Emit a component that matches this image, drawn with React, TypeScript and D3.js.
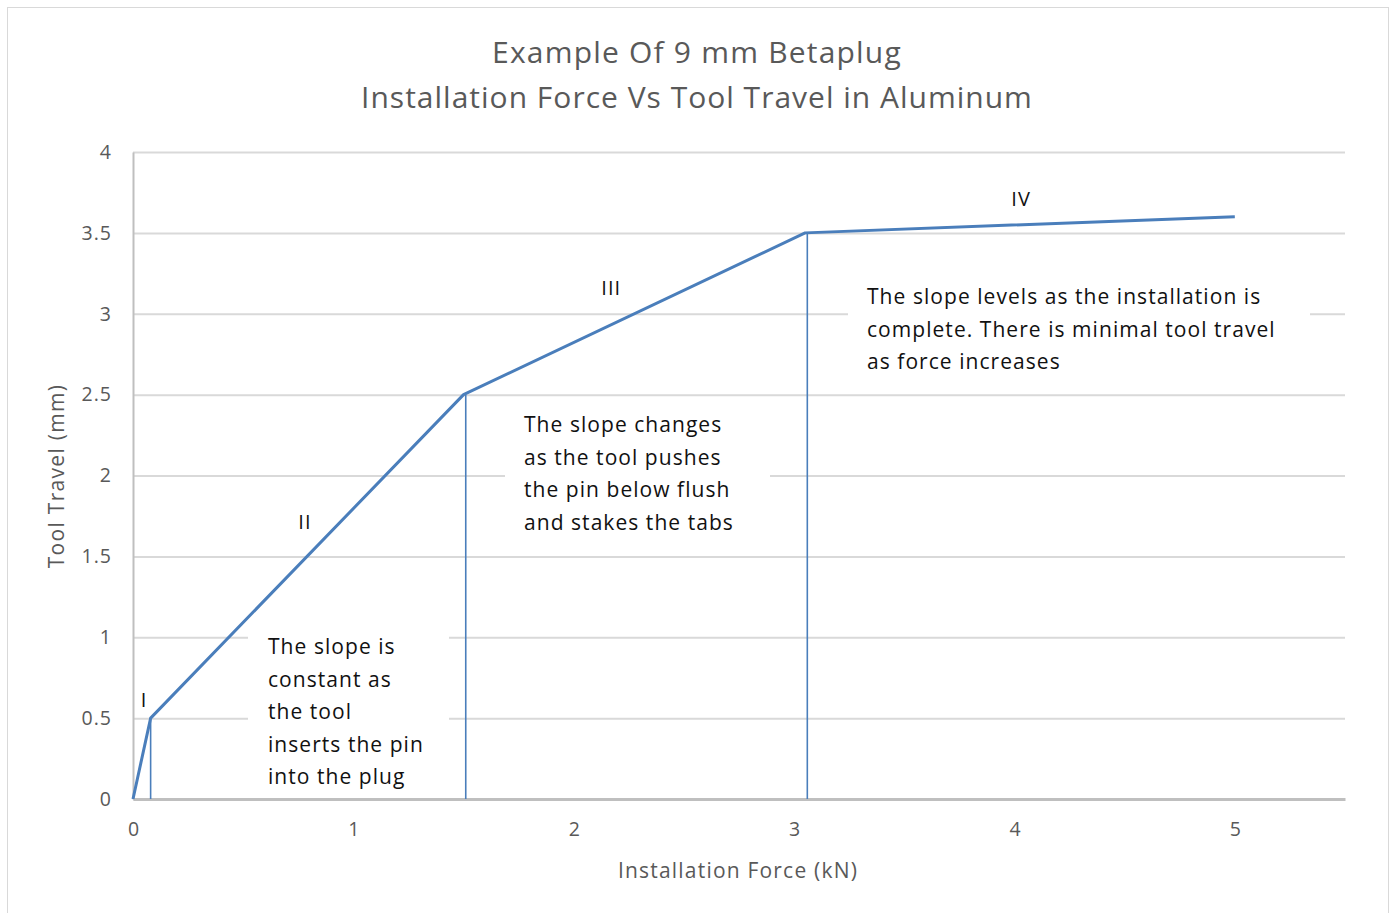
import { useEffect, useRef } from "react"
import * as d3 from "d3"

// series: installation force (kN) vs tool travel (mm)
const forceValues = [0, 0.08, 1.5, 3.05, 5]
const travelValues = [0, 0.5, 2.5, 3.5, 3.6]

// vertical stage markers
const markerForce = [0.08, 1.51, 3.06]
const markerTravel = [0.5, 2.5, 3.5]

const xTicks = [0, 1, 2, 3, 4, 5]
const yTicks = [0, 0.5, 1, 1.5, 2, 2.5, 3, 3.5, 4]

const stageLabels = ["I", "II", "III", "IV"]
const stageForce = [0.05, 0.78, 2.17, 4.03]
const stageTravel = [0.6, 1.7, 3.15, 3.7]

const noteLines = [
  ["The slope is", "constant as", "the tool", "inserts the pin", "into the plug"],
  ["The slope changes", "as the tool pushes", "the pin below flush", "and stakes the tabs"],
  ["The slope levels as the installation is", "complete. There is minimal tool travel", "as force increases"],
]

const titleLines = ["Example Of 9 mm Betaplug", "Installation Force Vs Tool Travel in Aluminum"]

export default function App() {
  const svgRef = useRef<SVGSVGElement>(null)
  const width = 1390
  const height = 913

  useEffect(() => {
    if (!svgRef.current) return
    document.body.style.margin = "0"
    d3.select(svgRef.current).selectAll("*").remove()

    const font = "'Open Sans', Lato, sans-serif"
    const margin = { top: 152, right: 45, bottom: 114, left: 133 }
    const innerWidth = width - margin.left - margin.right
    const innerHeight = height - margin.top - margin.bottom
    const lineColor = "#4a7ebb"

    const root = d3.select(svgRef.current).attr("width", width).attr("height", height)

    root
      .append("rect")
      .attr("x", 7.5)
      .attr("y", 7.5)
      .attr("width", 1381)
      .attr("height", 920)
      .attr("fill", "#fff")
      .attr("stroke", "#d9d9d9")

    // Title
    root
      .append("text")
      .attr("text-anchor", "middle")
      .attr("font-family", font)
      .attr("font-size", 30)
      .attr("fill", "#595959")
      .selectAll("tspan")
      .data(titleLines)
      .enter()
      .append("tspan")
      .attr("x", 697)
      .attr("y", (_, i) => 63 + i * 45)
      .attr("letter-spacing", (_, i) => (i === 0 ? 1.2 : 1))
      .text((d) => d)

    const svg = root.append("g").attr("transform", `translate(${margin.left},${margin.top})`)

    const x = d3.scaleLinear().domain([0, 5.5]).range([0, innerWidth])
    const y = d3.scaleLinear().domain([0, 4]).range([innerHeight, 0])
    const fmt = d3.format("~g")

    // grid lines
    svg
      .append("g")
      .call(
        d3
          .axisLeft(y)
          .tickValues(yTicks)
          .tickSize(-innerWidth)
          .tickFormat(() => ""),
      )
      .call((g) => g.select(".domain").remove())
      .call((g) => g.selectAll("line").attr("stroke", "#d9d9d9").attr("stroke-width", 2))

    // y axis labels
    svg
      .append("g")
      .call(d3.axisLeft(y).tickValues(yTicks).tickFormat(fmt).tickSize(0).tickPadding(21))
      .call((g) => g.select(".domain").attr("stroke", "#bfbfbf").attr("stroke-width", 2))
      .call((g) =>
        g
          .selectAll("text")
          .attr("font-family", font)
          .attr("font-size", 19.5)
          .attr("letter-spacing", 1)
          .attr("fill", "#595959"),
      )

    // x axis
    svg
      .append("g")
      .attr("transform", `translate(0,${innerHeight})`)
      .call(d3.axisBottom(x).tickValues(xTicks).tickFormat(fmt).tickSize(0).tickPadding(23))
      .call((g) => g.select(".domain").attr("stroke", "#bfbfbf").attr("stroke-width", 3))
      .call((g) =>
        g.selectAll("text").attr("font-family", font).attr("font-size", 19.5).attr("fill", "#595959"),
      )

    // note boxes (white, hide grid lines)
    const boxes = [
      { x: 248, y: 624, w: 201, h: 172, tx: 268, ty: 654 },
      { x: 505, y: 402, w: 265, h: 140, tx: 524, ty: 432 },
      { x: 848, y: 272, w: 462, h: 108, tx: 867, ty: 304 },
    ]
    boxes.forEach((b, i) => {
      root
        .append("rect")
        .attr("x", b.x)
        .attr("y", b.y)
        .attr("width", b.w)
        .attr("height", b.h)
        .attr("fill", "#fff")
      root
        .append("text")
        .attr("font-family", font)
        .attr("font-size", 21)
        .attr("letter-spacing", 1.05)
        .attr("fill", "#111")
        .selectAll("tspan")
        .data(noteLines[i])
        .enter()
        .append("tspan")
        .attr("x", b.tx)
        .attr("y", (_, j) => b.ty + j * 32.5)
        .text((d) => d)
    })

    // vertical stage markers
    svg
      .selectAll("line.marker")
      .data(markerForce)
      .enter()
      .append("line")
      .attr("class", "marker")
      .attr("x1", (d) => x(d))
      .attr("x2", (d) => x(d))
      .attr("y1", (_, i) => y(markerTravel[i]))
      .attr("y2", innerHeight)
      .attr("stroke", lineColor)
      .attr("stroke-width", 1.6)

    // series line
    const pts = forceValues.map((f, i) => [f, travelValues[i]] as [number, number])
    svg
      .append("path")
      .datum(pts)
      .attr("fill", "none")
      .attr("stroke", lineColor)
      .attr("stroke-width", 3)
      .attr("stroke-linejoin", "round")
      .attr("d", d3.line<[number, number]>().x((d) => x(d[0])).y((d) => y(d[1])))

    // stage labels
    svg
      .selectAll("text.stage")
      .data(stageLabels)
      .enter()
      .append("text")
      .attr("class", "stage")
      .attr("x", (_, i) => x(stageForce[i]))
      .attr("y", (_, i) => y(stageTravel[i]))
      .attr("text-anchor", "middle")
      .attr("dominant-baseline", "middle")
      .attr("font-family", font)
      .attr("font-size", 20)
      .attr("letter-spacing", 1)
      .attr("fill", "#111")
      .text((d) => d)

    // axis titles
    root
      .append("text")
      .attr("x", 738)
      .attr("y", 878)
      .attr("text-anchor", "middle")
      .attr("font-family", font)
      .attr("font-size", 21)
      .attr("letter-spacing", 1.2)
      .attr("fill", "#595959")
      .text("Installation Force (kN)")

    root
      .append("text")
      .attr("transform", `translate(64,476) rotate(-90)`)
      .attr("text-anchor", "middle")
      .attr("font-family", font)
      .attr("font-size", 21)
      .attr("letter-spacing", 1.3)
      .attr("fill", "#595959")
      .text("Tool Travel (mm)")
  }, [])

  return <svg ref={svgRef} style={{ display: "block" }} />
}
